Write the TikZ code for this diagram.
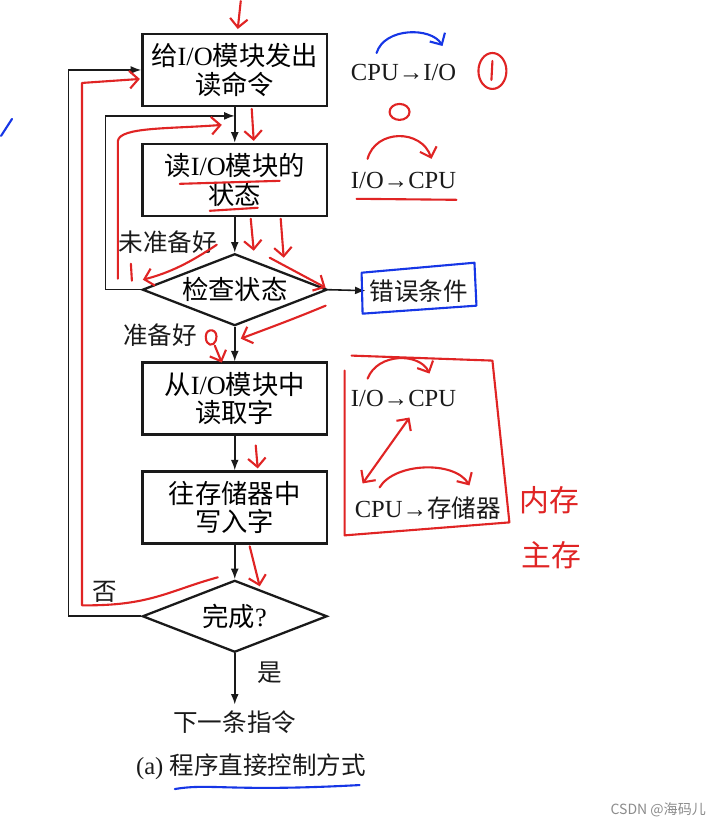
\documentclass[tikz,border=0pt]{standalone}
\usepackage{fontspec}
\setmainfont{Liberation Serif}
\newfontfamily\cjk{Noto Sans CJK SC}
\usetikzlibrary{arrows.meta,positioning,shapes.geometric}
\definecolor{Ink}{HTML}{1A1A1A}
\definecolor{Pen}{HTML}{E02424}
\definecolor{BluePen}{HTML}{1636E6}
\definecolor{Mark}{HTML}{8C8C8C}
\newcommand\io{{\rmfamily I/O}}

\begin{document}
\begin{tikzpicture}[x=0.02cm,y=-0.02cm,>={Latex[length=6pt,width=4.5pt]}, stepbox/.style={draw=Ink,line width=1.3pt,minimum width=3.7cm,minimum height=1.44cm,align=center,font=\fontsize{15}{16.5}\selectfont\cjk}, test/.style={diamond,draw=Ink,line width=1.3pt,aspect=2.5,minimum width=3.7cm,minimum height=1.44cm,inner sep=0pt,font=\fontsize{15}{16.5}\selectfont\cjk}, flow/.style={->,draw=Ink,line width=0.9pt}, tag/.style={font=\fontsize{14}{16}\selectfont\cjk,text=Ink}, xfer/.style={font=\fontsize{14}{16}\selectfont,text=Ink}, pen/.style={draw=Pen,line width=1.2pt,line cap=round,line join=round}, penarr/.style={pen,-{Straight Barb[length=5pt,width=10pt]}}, bpen/.style={draw=BluePen,line width=1.2pt,line cap=round,line join=round}]
\fill[white] (0,0) rectangle (724,825);
\node[stepbox] (cmd) at (235,69) {给\io 模块发出\\读命令};
\node[stepbox] (stat) at (235,179) {读\io 模块的\\状态};
\node[test] (chk) at (235,289) {检查状态};
\node[stepbox] (rd) at (235,398) {从\io 模块中\\读取字};
\node[stepbox] (wr) at (235,507) {往存储器中\\写入字};
\node[test] (done) at (235,616) {完成{\rmfamily ?}};
\node[tag] (next) at (235,722) {下一条指令};
\node[tag,anchor=west,inner sep=2pt] (err) at (366,290) {错误条件};
\node[tag] (notok) at (168,241) {未准备好};
\node[tag] (ok) at (160,335) {准备好};
\node[tag] (no) at (105,592) {否};
\node[tag] (yes) at (270,672) {是};
\node[xfer,anchor=west] (cap) at (130,767) {(a) {\cjk 程序直接控制方式}};
\coordinate (j1) at (235,115);
\draw[flow] (cmd) -- (stat);
\draw[flow] (stat) -- (chk);
\draw[flow] (chk) -- (rd);
\draw[flow] (rd) -- (wr);
\draw[flow] (wr) -- (done);
\draw[flow] (done) -- (next);
\draw[flow] (chk.east) -- (err.west);
\draw[flow] (chk.west) -- ++(-36,0) |- (j1);
\draw[flow] (done.west) -- ++(-73,0) |- (cmd.west);
\node[xfer] (t1) at (404,72) {CPU→I/O};
\node[xfer] (t2) at (404,180) {I/O→CPU};
\node[xfer] (t3) at (404,398) {I/O→CPU};
\node[xfer,anchor=west] (t4) at (349,508) {CPU→{\cjk 存储器}};
\node[font=\fontsize{8}{10}\selectfont\cjk,text=Mark] (wm) at (659,810) {CSDN @海码儿};
\draw[penarr] (241,0) -- (238,28);
\draw[penarr] (218,577) .. controls (170,590) and (150,606) .. (82,605) -- (82,82) -- (140,78);
\draw[penarr] (217,244) .. controls (190,262) and (170,272) .. (143,279);
\draw[penarr] (118,278) -- (118,140) .. controls (120,126) and (170,128) .. (222,124);
\draw[pen] (131,263) -- (132,280);
\draw[penarr] (252,108) -- (254,140);
\draw[penarr] (251,218) -- (254,250);
\draw[penarr] (281,218) -- (284,257);
\draw[penarr] (270,257) -- (326,287);
\draw[penarr] (326,305) .. controls (290,320) and (262,330) .. (241,338);
\draw[pen] (206,336) .. controls (206,326) and (220,328) .. (216,340) .. controls (214,346) and (206,346) .. (206,336);
\draw[penarr] (215,345) -- (222,362);
\draw[penarr] (256,445) -- (258,468);
\draw[penarr] (250,546) -- (260,586);
\draw[pen] (180,183) -- (280,180);
\draw[pen] (210,210) -- (258,207);
\draw[pen] (493,70) ellipse[x radius=14,y radius=18];
\draw[pen] (493,60) -- (492,79);
\draw[pen] (400,111) ellipse[x radius=10,y radius=8];
\draw[penarr] (368,158) .. controls (376,128) and (422,128) .. (432,158);
\draw[pen] (357,198) -- (457,199);
\draw[bpen,-{Straight Barb[length=5pt,width=10pt]}] (377,52) .. controls (385,26) and (432,26) .. (443,45);
\draw[bpen] (362,272) -- (475,262) -- (477,305) -- (363,313) -- cycle;
\draw[pen] (352,355) -- (493,360) -- (510,522) -- (345,535) -- (345,370);
\draw[penarr] (368,378) .. controls (378,352) and (420,352) .. (430,373);
\draw[pen,{Straight Barb[length=5pt,width=10pt]}-{Straight Barb[length=5pt,width=10pt]}] (410,417) -- (363,483);
\draw[penarr] (380,487) .. controls (395,462) and (455,460) .. (470,485);
\node[text=Pen,font=\fontsize{17}{18}\selectfont\cjk] (inner) at (550,500) {内存};
\node[text=Pen,font=\fontsize{17}{18}\selectfont\cjk] (main) at (552,555) {主存};
\draw[bpen] (175,789) .. controls (210,783) and (230,792) .. (360,785);
\draw[bpen] (1,135) -- (12,118);
\end{tikzpicture}
\end{document}
